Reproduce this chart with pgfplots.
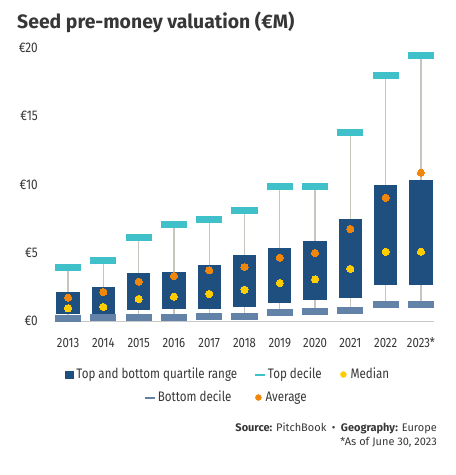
\documentclass[border=0pt]{standalone}
\usepackage{fontspec}
\setmainfont{Fira Sans}
\newfontfamily\condfont[FakeStretch=0.84]{Fira Sans}
\usepackage{pgfplots}
\usepackage{pgfplotstable}
\pgfplotsset{compat=1.18}

\definecolor{boxblue}{RGB}{30,79,126}
\definecolor{topdec}{RGB}{64,193,201}
\definecolor{botdec}{RGB}{98,131,167}
\definecolor{medyel}{RGB}{255,204,0}
\definecolor{avgorg}{RGB}{240,135,10}
\definecolor{whisk}{RGB}{200,196,190}
\definecolor{baseln}{RGB}{200,200,200}
\definecolor{txt}{RGB}{55,55,55}

% Seed pre-money valuation distribution, EUR millions
\pgfplotstableread{
year x   d1   q1   med  avg   q3    d9
2013 0   0.22 0.50 0.95 1.73  2.14  3.95
2014 1   0.29 0.55 1.05 2.14  2.51  4.46
2015 2   0.29 0.85 1.63 2.90  3.53  6.14
2016 3   0.29 0.92 1.80 3.31  3.60  7.10
2017 4   0.36 0.92 2.00 3.73  4.12  7.46
2018 5   0.36 1.07 2.31 3.97  4.85  8.12
2019 6   0.66 1.36 2.80 4.65  5.36  9.87
2020 7   0.73 1.58 3.07 5.00  5.87  9.87
2021 8   0.80 1.73 3.83 6.75  7.48  13.80
2022 9   1.24 2.68 5.09 9.04  9.97  18.00
2023 10  1.24 2.68 5.09 10.87 10.34 19.46
}\seeddata

\pgfplotsset{
  plotframe/.style={
    at={(55pt,153.7pt)}, anchor=south west,
    scale only axis, width=379pt, height=280.3pt},
  % one legend key per overlay axis, placed by its left edge
  keyaxis/.style={
    plotframe, xmin=0, xmax=1, ymin=0, ymax=1, hide axis,
    legend style={draw=none, fill=none, inner sep=0pt, anchor=west,
      nodes={inner sep=0pt, text depth=0.2em},
      font=\condfont\fontsize{13.8}{15}\selectfont, text=txt,
      at={(#1)}}},
}

\begin{document}
\begin{tikzpicture}[x=1pt,y=1pt]
\useasboundingbox (0,0) rectangle (456,475);

\node[anchor=base west, inner sep=0pt, text=txt, font=\fontsize{19.4}{22}\selectfont\bfseries]
  at (17,446) {Seed pre-money valuation (€M)};

\begin{axis}[
  plotframe,
  xmin=-0.37, xmax=10.37, ymin=0, ymax=20.5,
  clip=false,
  axis x line=bottom, axis y line=left,
  x axis line style={baseln, line width=1pt, -},
  y axis line style={draw=none},
  major tick length=0pt,
  xtick={0,...,10},
  xticklabels={2013,2014,2015,2016,2017,2018,2019,2020,2021,2022,2023*},
  ytick={0,5,10,15,20},
  yticklabels={€0,€5,€10,€15,€20},
  xticklabel style={font=\condfont\fontsize{13.5}{15}\selectfont, text=txt, anchor=base, yshift=-26pt, inner sep=0pt},
  yticklabel style={font=\condfont\fontsize{14}{15}\selectfont, text=txt, anchor=east, xshift=-17pt, inner sep=0pt},
]
% whiskers from bottom decile to top decile
\addplot[draw=none, mark=none,
  error bars/.cd, y dir=plus, y explicit, error mark=none,
  error bar style={draw=whisk, line width=1.3pt}]
  table[x=x, y=d1, y error expr=\thisrow{d9}-\thisrow{d1}] {\seeddata};
% interquartile boxes
\addplot[draw=none, mark=none,
  error bars/.cd, y dir=plus, y explicit, error mark=none,
  error bar style={draw=boxblue, line width=23.3pt}]
  table[x=x, y=q1, y error expr=\thisrow{q3}-\thisrow{q1}] {\seeddata};
% deciles
\addplot[only marks, mark=-, mark size=13pt,
  mark options={draw=botdec, line width=7pt}]
  table[x=x, y=d1] {\seeddata};
\addplot[only marks, mark=-, mark size=13pt,
  mark options={draw=topdec, line width=7pt}]
  table[x=x, y=d9] {\seeddata};
% median and average
\addplot[only marks, mark=*, mark size=3.6pt,
  mark options={draw=medyel, line width=0pt, fill=medyel}]
  table[x=x, y=med] {\seeddata};
\addplot[only marks, mark=*, mark size=3.6pt,
  mark options={draw=avgorg, line width=0pt, fill=avgorg}]
  table[x=x, y=avg] {\seeddata};
\end{axis}

% legend, first row
\begin{axis}[keyaxis={0.02639,-0.1898}]
\addlegendimage{legend image code/.code={\fill[boxblue] (0pt,-3.7pt) rectangle (7.4pt,3.7pt); \path (10.8pt,0pt);}}
\addlegendentry{Top and bottom quartile range}
\end{axis}
\begin{axis}[keyaxis={0.5277,-0.1898}]
\addlegendimage{legend image code/.code={\fill[topdec] (0pt,-0.7pt) rectangle (9pt,0.7pt); \path (12.3pt,0pt);}}
\addlegendentry{Top decile}
\end{axis}
\begin{axis}[keyaxis={0.7520,-0.1898}]
\addlegendimage{legend image code/.code={\fill[medyel] (3pt,0pt) circle (3pt); \path (10pt,0pt);}}
\addlegendentry{Median}
\end{axis}
% legend, second row
\begin{axis}[keyaxis={0.2375,-0.2719}]
\addlegendimage{legend image code/.code={\fill[botdec] (0pt,-0.7pt) rectangle (9pt,0.7pt); \path (12.3pt,0pt);}}
\addlegendentry{Bottom decile}
\end{axis}
\begin{axis}[keyaxis={0.5277,-0.2719}]
\addlegendimage{legend image code/.code={\fill[avgorg] (3pt,0pt) circle (3pt); \path (10pt,0pt);}}
\addlegendentry{Average}
\end{axis}

\node[anchor=base east, inner sep=0pt, text=txt, font=\fontsize{11}{13}\selectfont]
  at (437,44) {\textbf{Source:} PitchBook\enspace•\enspace\textbf{Geography:} Europe};
\node[anchor=base east, inner sep=0pt, text=txt, font=\fontsize{11}{13}\selectfont]
  at (437,29.5) {*As of June 30, 2023};
\end{tikzpicture}
\end{document}
